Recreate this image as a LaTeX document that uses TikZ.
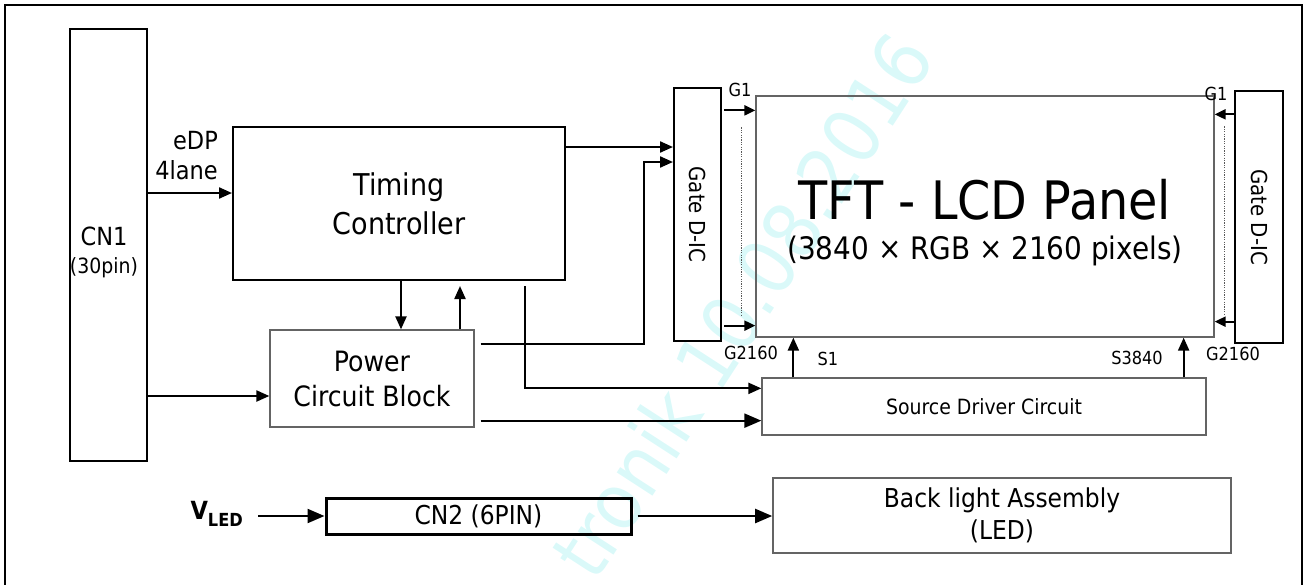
\documentclass[tikz,border=0pt]{standalone}
\usepackage{fontspec}
\setmainfont{DejaVu Sans Condensed}
\usetikzlibrary{arrows.meta}
\definecolor{wmark}{RGB}{218,249,249}
\definecolor{edgegray}{RGB}{100,100,100}
\begin{document}
\begin{tikzpicture}[x=1pt,y=-1pt,
  every node/.style={inner sep=0pt},
  blk/.style={draw=black,line width=2pt},
  gry/.style={draw=edgegray,line width=1.3pt},
  arr/.style={-{Triangle[length=13pt,width=11pt]},line width=2.2pt},
  bigarr/.style={-{Triangle[length=17pt,width=14pt]},line width=2.2pt},
  smallarr/.style={-{Triangle[length=11pt,width=10pt]},line width=2.2pt},
  pin/.style={font=\fontsize{18}{18}\selectfont},
  dots/.style={black!65,line width=1.4pt,dash pattern=on 1.2pt off 1.2pt}]
\useasboundingbox (0,0) rectangle (1306,584);
% watermark and frame
\node[rotate=57,text=wmark,font=\fontsize{78}{78}\selectfont] (wm) at (742,305) {tronik 10.08.2016};
\draw[line width=2.4pt] (5,600) -- (5,5) -- (1302,5) -- (1302,600);
% blocks
\node[blk,minimum width=77,minimum height=432] (cn1) at (108.5,245) {};
\node[align=center,font=\fontsize{25}{28}\selectfont] (cn1txt) at (104,252) {CN1\\{\fontsize{21}{21}\selectfont(30pin)}};
\node[blk,minimum width=332,minimum height=153,align=center,font=\fontsize{30}{39}\selectfont] (tc) at (399,203.5) {Timing\\Controller};
\node[align=right,anchor=east,font=\fontsize{25}{30}\selectfont] (edp) at (218,156) {eDP\\4lane};
\node[gry,minimum width=204,minimum height=97,align=center,font=\fontsize{28}{35}\selectfont] (pwr) at (372,378.5) {Power\\Circuit Block};
\node[blk,minimum width=47,minimum height=253] (gl) at (697.5,214.5) {};
\node[rotate=-90,font=\fontsize{22}{22}\selectfont] (gltxt) at (gl.center) {Gate D-IC};
\node[blk,minimum width=48,minimum height=252] (gr) at (1259,217) {};
\node[rotate=-90,font=\fontsize{22}{22}\selectfont] (grtxt) at (gr.center) {Gate D-IC};
\node[gry,minimum width=458,minimum height=241] (panel) at (985,216.5) {};
\node[font=\fontsize{53}{53}\selectfont] (ptitle) at (985,200) {TFT - LCD Panel};
\node[font=\fontsize{31}{31}\selectfont] (psub) at (985,251) {(3840 × RGB × 2160 pixels)};
\node[gry,minimum width=444,minimum height=57,font=\fontsize{21}{21}\selectfont] (sd) at (984,406.5) {Source Driver Circuit};
\node[gry,line width=1.6pt,minimum width=458,minimum height=75,align=center,font=\fontsize{26}{32}\selectfont] (bl) at (1002,515.5) {Back light Assembly\\(LED)};
\node[draw,line width=3pt,minimum width=305,minimum height=36,font=\fontsize{26}{26}\selectfont] (cn2) at (478.5,516) {CN2 (6PIN)};
\node[anchor=base east,font=\fontsize{25}{25}\selectfont\bfseries] (vled) at (243,519) {V\raisebox{-7pt}{\fontsize{18}{18}\selectfont LED}};
% pin labels
\node[pin] (g1l) at (740,90) {G1};
\node[pin] (g2l) at (751,353) {G2160};
\node[pin] (s1) at (828,359) {S1};
\node[pin] (s3840) at (1137,358) {S3840};
\node[pin] (g1r) at (1216,94) {G1};
\node[pin] (g2r) at (1233,354) {G2160};
% signal flow
\draw[arr] ([yshift=10.5pt]tc.west -| cn1.east) -- ([yshift=10.5pt]tc.west);
\draw[arr] ([yshift=-17.5pt]pwr.west -| cn1.east) -- ([yshift=-17.5pt]pwr.west);
\draw[arr] ([yshift=-21pt]tc.north east) -- ([yshift=-21pt]tc.north east -| gl.west);
\draw[arr] ([xshift=6pt,yshift=-15pt]pwr.north east) -| ([xshift=-29pt,yshift=-75pt]gl.north west) -- ([yshift=-75pt]gl.north west);
\draw[arr] ([xshift=126pt,yshift=-5pt]tc.south) |- ([yshift=-11pt]sd.north west);
\draw[bigarr] ([xshift=6pt,yshift=7pt]pwr.south east) -- ([yshift=7pt]pwr.south east -| sd.west);
\draw[arr] ([xshift=2pt]tc.south) -- ([xshift=2pt]tc.south |- pwr.north);
\draw[arr] ([xshift=88pt]pwr.north) -- ([xshift=88pt,yshift=-5pt]pwr.north |- tc.south);
% gate lines into panel
\draw[smallarr] ([xshift=2pt,yshift=-15pt]panel.north west -| gl.east) -- ([yshift=-15pt]panel.north west);
\draw[smallarr] ([xshift=2pt,yshift=12pt]panel.south west -| gl.east) -- ([yshift=12pt]panel.south west);
\draw[smallarr] ([yshift=-19pt]panel.north east -| gr.west) -- ([yshift=-19pt]panel.north east);
\draw[smallarr] ([yshift=16pt]panel.south east -| gr.west) -- ([yshift=16pt]panel.south east);
\draw[dots] ([xshift=-14pt,yshift=-32pt]panel.north west) -- ([xshift=-14pt,yshift=22pt]panel.south west);
\draw[dots] ([xshift=10pt,yshift=-31pt]panel.north east) -- ([xshift=10pt,yshift=24pt]panel.south east);
% source lines
\draw[arr] ([xshift=32pt]sd.north west) -- ([xshift=32pt]sd.north west |- panel.south);
\draw[arr] ([xshift=-23pt]sd.north east) -- ([xshift=-23pt]sd.north east |- panel.south);
% backlight
\draw[bigarr] ([xshift=15pt]vled.east |- cn2.west) -- (cn2.west);
\draw[bigarr] ([xshift=5pt]cn2.east) -- (cn2.east -| bl.west);
\end{tikzpicture}
\end{document}
